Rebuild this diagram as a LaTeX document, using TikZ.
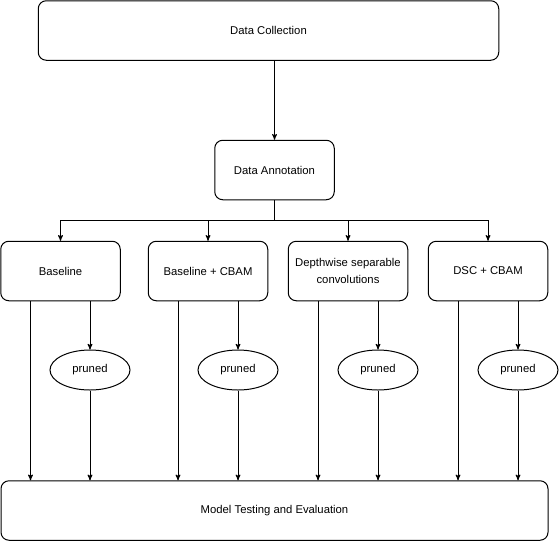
\documentclass[tikz,border=0pt]{standalone}
\usepackage{fontspec}
\setmainfont{Liberation Sans}
\usepackage{tikz}
\usetikzlibrary{arrows, shapes, calc}
\tikzset{>=stealth', font=\fontsize{11.3}{16.5}\selectfont,
  every path/.style={line width=1pt},
  stage/.style={rectangle,rounded corners=8pt,draw,inner sep=0pt,align=center,minimum height=59.5pt},
  model/.style={stage,minimum width=119.5pt},
  prune/.style={ellipse,draw,inner sep=0pt,minimum width=80pt,minimum height=40pt}}

\begin{document}
\begin{tikzpicture}[x=1pt,y=-1pt]
\useasboundingbox (0,0) rectangle (559,541);
\path (268.5,30.5) node(data_collection) [stage,minimum width=460.5pt] {Data Collection}
(274.5,170) node(data_annotation) [stage,minimum width=119.5pt] {Data Annotation}
(60.5,271) node(baseline) [model] {Baseline}
(208,271) node(baseline_cbam) [model] {Baseline + CBAM}
(348,271) node(dsc) [model] {Depthwise separable\\convolutions}
(488,271) node(dsc_cbam) [model] {DSC + CBAM}
(90,370) node(pruned_baseline) [prune] {pruned}
(238,370) node(pruned_baseline_cbam) [prune] {pruned}
(378,370) node(pruned_dsc) [prune] {pruned}
(518,370) node(pruned_dsc_cbam) [prune] {pruned}
(274.5,510.5) node(testing) [stage,minimum width=547pt] {Model Testing and Evaluation};

\draw[->] (data_collection.south -| data_annotation) -- (data_annotation);
\draw (data_annotation.south) -- ++(0,20) coordinate(split);
\foreach \m in {baseline,baseline_cbam,dsc,dsc_cbam}
{
  \draw[->] (split) -| (\m.north);
  \draw[->] ([xshift=-30pt]\m.south) -- ([xshift=-30pt]\m.south |- testing.north);
  \draw[->] (\m.south -| pruned_\m) -- (pruned_\m);
  \draw[->] (pruned_\m) -- (pruned_\m |- testing.north);
}
\end{tikzpicture}
\end{document}
